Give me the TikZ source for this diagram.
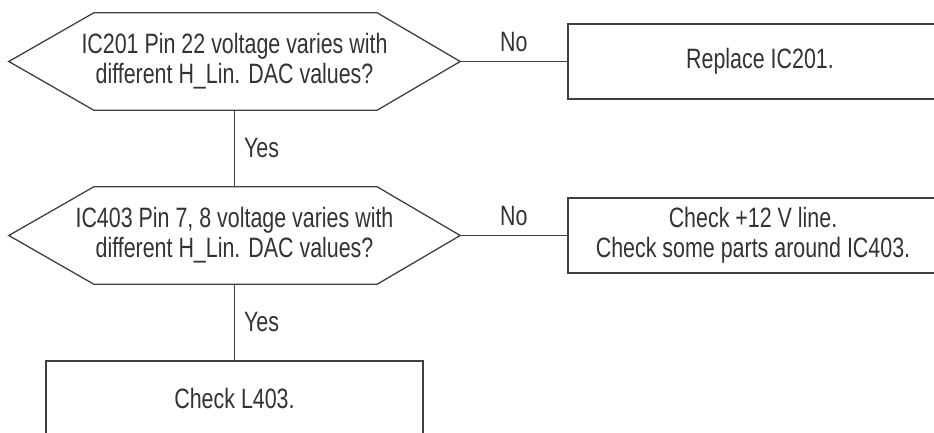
\documentclass[tikz,border=0pt]{standalone}
\usepackage{fontspec}
\setmainfont[FakeStretch=0.765]{Liberation Sans}
\usetikzlibrary{positioning}
\tikzset{
  decision/.style={minimum width=451pt, minimum height=97pt, align=center, inner sep=0pt},
  action/.style={draw=black!75, line width=1.3pt, minimum width=370pt, minimum height=75pt, align=center},
  flowline/.style={draw=black!75, line width=1.3pt},
  answer/.style={inner sep=9pt}
}
\begin{document}
\begin{tikzpicture}[x=1pt, y=1pt, font=\fontsize{28}{30}\selectfont, text=black!80]
		\useasboundingbox (0,0) rectangle (934,432);
		% decisions
		\node [decision] (pin22) at (234.5,370.5) {IC201 Pin 22 voltage varies with\\different H\_Lin. DAC values?};
		\node [decision] (pin78) at (234.5,196.5) {IC403 Pin 7, 8 voltage varies with\\different H\_Lin. DAC values?};
		\draw [flowline](pin22.west)--([xshift=85pt]pin22.north west)--([xshift=-83pt]pin22.north east)--(pin22.east)--([xshift=-83pt]pin22.south east)--([xshift=85pt]pin22.south west)--cycle;
		\draw [flowline](pin78.west)--([xshift=85pt]pin78.north west)--([xshift=-83pt]pin78.north east)--(pin78.east)--([xshift=-83pt]pin78.south east)--([xshift=85pt]pin78.south west)--cycle;
		% actions
		\node [action, minimum width=384pt] (replace) at (760,370.5) {Replace IC201.};
		\node [action] (line12) at (753,196.5) {Check +12 V line.\\Check some parts around IC403.};
		\node [action, minimum width=377pt, minimum height=74pt] (l403) at (234.5,34) {Check L403.};
		% connectors
		\draw [flowline](pin22.east)--node[answer, above]{No}(replace.west);
		\draw [flowline](pin22.south)--node[answer, right]{Yes}(pin78.north);
		\draw [flowline](pin78.east)--node[answer, above]{No}(line12.west);
		\draw [flowline](pin78.south)--node[answer, right]{Yes}(l403.north);
		
		\end{tikzpicture}
\end{document}
